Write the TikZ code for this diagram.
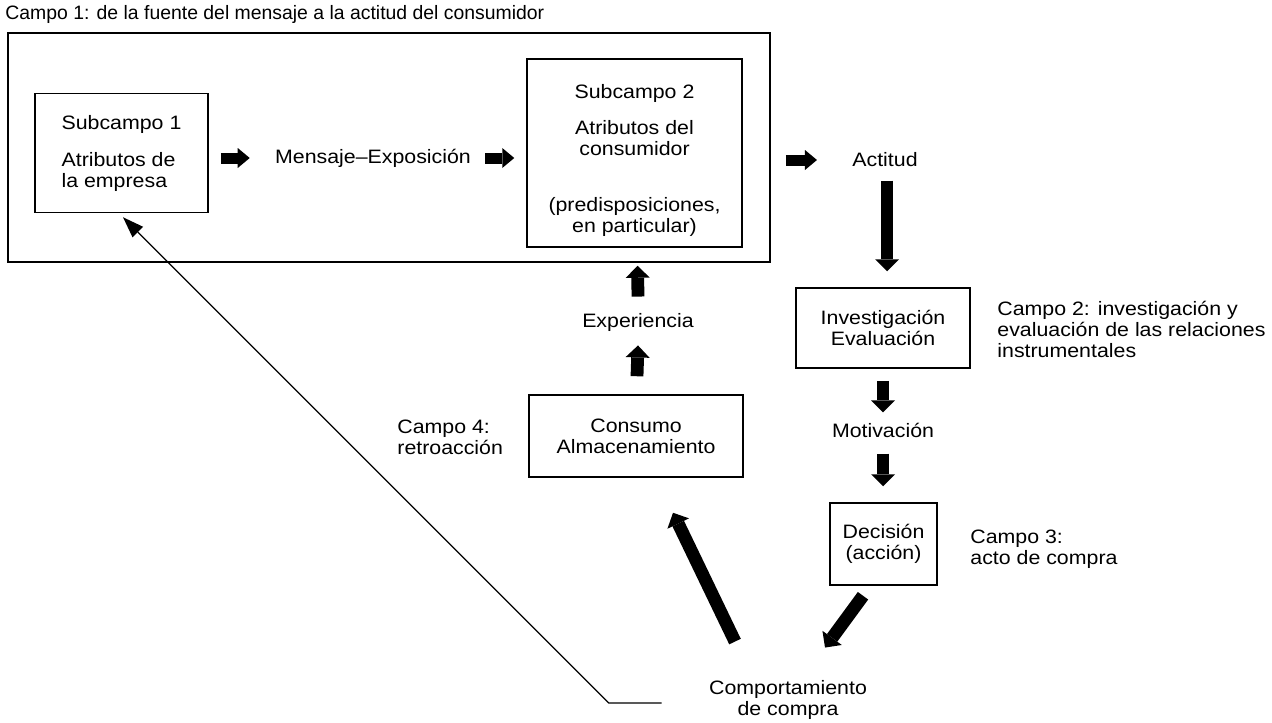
\documentclass[tikz,border=0pt]{standalone}
\usepackage{fontspec}
\setmainfont{Liberation Sans}[FakeStretch=1.1]
\newfontfamily\titlefont{Liberation Sans}
\usetikzlibrary{arrows.meta,calc}
\begin{document}
\begin{tikzpicture}[x=0.5pt,y=-0.5pt,
  every node/.style={font=\fontsize{9.7}{10.5}\selectfont, inner sep=0pt},
  box/.style={draw, line width=0.75pt, align=center},
  hblk/.style={line width=5.5pt, -{Triangle[width=10pt,length=6pt,line width=0pt]}},
  vblk/.style={line width=6.4pt, -{Triangle[width=12pt,length=6pt,line width=0pt]}},
  fback/.style={line width=0.65pt, -{Triangle[width=7.5pt,length=10.5pt,line width=0pt]}}]
\useasboundingbox (0,0) rectangle (1272,722);
% title and outer frame
\node[anchor=west, font=\titlefont\fontsize{9.7}{10.5}\selectfont] (t1) at (5,14) {Campo 1: de la fuente del mensaje a la actitud del consumidor};
\node[draw, line width=0.75pt, minimum width=381pt, minimum height=114.5pt] (c1) at (389,147.5) {};
% boxes
\node[box, align=left, minimum width=86.5pt, minimum height=59.5pt] (s1) at (121.5,153)
  {Subcampo 1\\[8pt]Atributos de\\la empresa};
\node[box, minimum width=107.5pt, minimum height=94pt] (s2) at (634.5,153)
  {\rule{0pt}{15pt}Subcampo 2\\[7.5pt]Atributos del\\consumidor\\[17.5pt](predisposiciones,\\en particular)};
\node[box, minimum width=87pt, minimum height=40pt] (inv) at (883,328) {Investigación\\Evaluación};
\node[box, minimum width=53.5pt, minimum height=41pt] (dec) at (883.5,544) {Decisión\\(acción)};
\node[box, minimum width=107pt, minimum height=41pt] (cons) at (636,436) {Consumo\\Almacenamiento};
% plain texts
\node (msg) at (373,158) {Mensaje--Exposición};
\node (act) at (885,160) {Actitud};
\node (mot) at (883,430) {Motivación};
\node (exp) at (638,322) {Experiencia};
\node[align=center] (comp) at (788,700) {Comportamiento\\de compra};
\node[anchor=west, align=left] (camp2) at (997,329) {Campo 2: investigación y\\evaluación de las relaciones\\instrumentales};
\node[anchor=west, align=left] (camp3) at (970,549) {Campo 3:\\acto de compra};
\node[anchor=west, align=left] (camp4) at (397,437) {Campo 4:\\retroacción};
% block arrows
\draw[hblk] ($(s1.east)+(12,5)$) -- ($(msg.west)+(-25,0)$);
\draw[hblk] ($(msg.east)+(14,0)$) -- ($(s2.west)+(-12,5)$);
\draw[hblk] ($(s2.east)+(43,7)$) -- ($(act.west)+(-35,0)$);
\draw[vblk] ($(act.south)+(2,13)$) -- ($(inv.north)+(4,-16)$);
\draw[vblk] ($(inv.south)+(0,12)$) -- ($(mot.north)+(0,-10)$);
\draw[vblk] ($(mot.south)+(0,16)$) -- ($(dec.north)+(-0.5,-16)$);
\draw[vblk] ($(dec.south)+(-20.5,10)$) -- ($(comp.north)+(37,-32.5)$);
\draw[vblk] ($(comp.north)+(-53,-38.5)$) -- ($(cons.south)+(37,35)$);
\draw[vblk] ($(cons.north)+(1,-18)$) -- ($(exp.south)+(0,14)$);
\draw[vblk] ($(exp.north)+(0,-16)$) -- ($(s2.south)+(3,18)$);
% feedback line
\draw[fback] ($(comp.west)+(-47,3)$) -- ($(comp.west)+(-100,3)$) -- ($(s1.south)+(1.5,4)$);
\end{tikzpicture}
\end{document}
